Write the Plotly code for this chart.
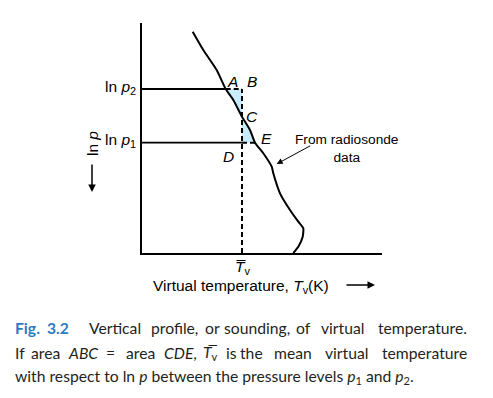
import plotly.graph_objects as go

# Sounding (virtual temperature vs ln p), arbitrary units
temp = [50.7, 61.3, 74.7, 83.7, 91.3, 100.0, 108.0, 113.0, 121.3, 129.7, 131.3, 138.0, 148.0, 156.3, 161.3, 160.7, 156.3, 151.3]
lnp = [221.3, 203.0, 183.0, 164.0, 153.0, 136.3, 123.0, 110.3, 99.7, 86.3, 79.7, 59.7, 43.0, 31.3, 24.7, 16.3, 6.3, 0.0]

lnp2 = 164.0
lnp1 = 110.3
tv_mean = 100.0
a_x = 83.7
e_x = 113.0
c_y = 136.3

abc_x = [a_x, tv_mean, tv_mean, 91.3, a_x]
abc_y = [lnp2, lnp2, c_y, 153.0, lnp2]
cde_x = [tv_mean, tv_mean, e_x, 108.0, tv_mean]
cde_y = [c_y, lnp1, lnp1, 123.0, c_y]

FILL = "#c9ecfa"
BLACK = "#000000"
FONT = "Liberation Sans, Arial, sans-serif"

fig = go.Figure()
fig.add_trace(go.Scatter(x=abc_x, y=abc_y, fill="toself", fillcolor=FILL, mode="none", hoverinfo="skip"))
fig.add_trace(go.Scatter(x=cde_x, y=cde_y, fill="toself", fillcolor=FILL, mode="none", hoverinfo="skip"))

# solid level lines
fig.add_trace(go.Scatter(x=[0, a_x], y=[lnp2, lnp2], mode="lines", line=dict(color=BLACK, width=1.8)))
fig.add_trace(go.Scatter(x=[0, tv_mean], y=[lnp1, lnp1], mode="lines", line=dict(color=BLACK, width=1.8)))
# dashed lines
dash = dict(color=BLACK, width=2, dash="5px,3px")
fig.add_trace(go.Scatter(x=[a_x, tv_mean], y=[lnp2, lnp2], mode="lines", line=dash))
fig.add_trace(go.Scatter(x=[tv_mean, e_x], y=[lnp1, lnp1], mode="lines", line=dash))
fig.add_trace(go.Scatter(x=[tv_mean, tv_mean], y=[0, lnp2], mode="lines", line=dash))
# sounding curve
fig.add_trace(go.Scatter(x=temp, y=lnp, mode="lines", line=dict(color=BLACK, width=2, shape="spline", smoothing=0.5)))

def px2paper(px, py):
    return (px - 142) / 240.0, (253 - py) / 230.0

XD, YD = "x domain", "y domain"
ann = []
lab = dict(family=FONT, size=15.5, color=BLACK)
for t, x, y in [("A", 90.7, 172), ("B", 109.7, 172), ("C", 109.7, 136.3), ("E", 124.7, 115), ("D", 86.3, 96.3)]:
    ann.append(dict(x=x, y=y, xref="x", yref="y", text="<i>%s</i>" % t, showarrow=False, font=lab,
                    xanchor="center", yanchor="middle"))

ann.append(dict(x=204.7, y=105, xref="x", yref="y", text="From radiosonde<br>data", showarrow=False,
                font=dict(family=FONT, size=13.7, color=BLACK), xanchor="center", yanchor="middle"))
ann.append(dict(x=134.7, y=89, xref="x", yref="y", ax=169.7, ay=108, axref="x", ayref="y", text="",
                showarrow=True, arrowhead=2, arrowsize=1.2, arrowwidth=1, arrowcolor=BLACK))

# y labels
for t, y in [("ln <i>p</i><sub>2</sub>", lnp2), ("ln <i>p</i><sub>1</sub>", lnp1)]:
    xp, _ = px2paper(138, 0)
    ann.append(dict(x=xp, y=y + 2, xref=XD, yref="y", text=t, showarrow=False, font=lab,
                    xanchor="right", yanchor="middle"))

xp, yp = px2paper(92, 144)
ann.append(dict(x=xp, y=yp, xref=XD, yref=YD, text="ln <i>p</i>", textangle=-90, showarrow=False,
                font=lab, xanchor="center", yanchor="middle"))
x1, y1 = px2paper(92, 192)
x0, y0 = px2paper(92, 163)
ann.append(dict(x=x1, y=y1, ax=x0, ay=y0, xref=XD, yref=YD, axref=XD, ayref=YD, text="",
                showarrow=True, arrowhead=2, arrowsize=1, arrowwidth=1.5, arrowcolor=BLACK))

# T mean label
_, yp = px2paper(0, 267)
ann.append(dict(x=tv_mean, y=yp, xref="x", yref=YD, text="<i>T\u0305</i><sub>v</sub>", showarrow=False,
                font=lab, xanchor="center", yanchor="middle"))
# x title
_, yp = px2paper(0, 286)
ann.append(dict(x=99, y=yp, xref="x", yref=YD, text="Virtual temperature, <i>T</i><sub>v</sub>(K)",
                showarrow=False, font=lab, xanchor="center", yanchor="middle"))
x1, y1 = px2paper(375, 285)
x0, y0 = px2paper(345, 285)
ann.append(dict(x=x1, y=y1, ax=x0, ay=y0, xref=XD, yref=YD, axref=XD, ayref=YD, text="",
                showarrow=True, arrowhead=2, arrowsize=1, arrowwidth=1.5, arrowcolor=BLACK))

# caption (justified lines placed word by word)
cap = dict(family="Lato, sans-serif", size=15.7, color="#231f20")
BLUE = "<b><span style='color:#2d7bbf'>%s</span></b>"
line1 = [(BLUE % "Fig.", 13.3, "left"), (BLUE % "3.2", 57.5, "center"), ("Vertical", 115.3, "center"),
         ("profile,", 174.5, "center"), ("or", 212.8, "center"), ("sounding,", 256.7, "center"),
         ("of", 303.8, "center"), ("virtual", 342.5, "center"), ("temperature.", 422.5, "center")]
line2 = [("If", 13.3, "left"), ("area", 45, "center"), ("<i>ABC</i>", 83.3, "center"), ("=", 110, "center"),
         ("area", 140, "center"), ("<i>CDE</i>,", 180.8, "center"), ("<i>T\u0305</i><sub>v</sub>", 210.8, "center"),
         ("is", 231.3, "center"), ("the", 251.7, "center"), ("mean", 292.5, "center"), ("virtual", 346, "center"),
         ("temperature", 424, "center")]
line3 = [("with respect to ln <i>p</i> between the pressure levels <i>p</i><sub>1</sub> and <i>p</i><sub>2</sub>.", 13.3, "left")]
for words, py in [(line1, 328), (line2, 353), (line3, 377)]:
    for t, px, anchor in words:
        xp, yp = px2paper(px, py)
        ann.append(dict(x=xp, y=yp, xref="paper", yref="paper", text=t, showarrow=False, font=cap,
                        xanchor=anchor, yanchor="middle", align="left"))

fig.update_layout(
    width=493, height=398,
    margin=dict(l=142, r=111, t=23, b=145),
    paper_bgcolor="white", plot_bgcolor="white",
    showlegend=False,
    xaxis=dict(range=[0, 240], showgrid=False, zeroline=False, showticklabels=False, ticks="",
               showline=True, linecolor=BLACK, linewidth=2, fixedrange=True),
    yaxis=dict(range=[0, 230], showgrid=False, zeroline=False, showticklabels=False, ticks="",
               showline=True, linecolor=BLACK, linewidth=2, fixedrange=True),
    annotations=ann,
)
fig.write_html("out.html")
